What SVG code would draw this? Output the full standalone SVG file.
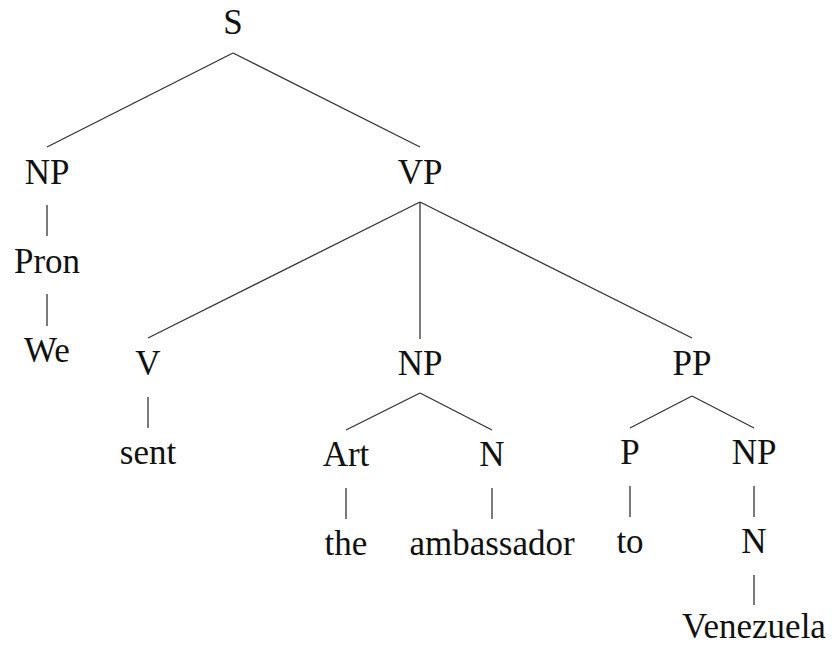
<svg xmlns="http://www.w3.org/2000/svg" width="832" height="648" viewBox="0 0 832 648">
<style>
.t text{font-size:35px;fill:#111;text-anchor:middle}
line{stroke:#333;stroke-width:1.3}
</style>
<rect width="832" height="648" fill="#fff"/>
<g id="edges">
<line x1="233" y1="53" x2="47" y2="147"/>
<line x1="233" y1="53" x2="420" y2="147"/>
<line x1="47" y1="205" x2="47" y2="236"/>
<line x1="47" y1="294" x2="47" y2="326"/>
<line x1="420" y1="202" x2="148" y2="338"/>
<line x1="420" y1="202" x2="420" y2="339"/>
<line x1="420" y1="202" x2="692" y2="338"/>
<line x1="148" y1="397" x2="148" y2="428"/>
<line x1="420" y1="393" x2="346" y2="430"/>
<line x1="420" y1="393" x2="492" y2="430"/>
<line x1="692" y1="396" x2="630" y2="428"/>
<line x1="692" y1="396" x2="754" y2="428"/>
<line x1="346" y1="488" x2="346" y2="519"/>
<line x1="492" y1="488" x2="492" y2="519"/>
<line x1="630" y1="486" x2="630" y2="517"/>
<line x1="754" y1="486" x2="754" y2="517"/>
<line x1="754" y1="575" x2="754" y2="605"/>
</g>
<g class="t" font-family="'Liberation Serif', 'Times New Roman', serif">
<g id="S"><text x="233" y="34">S</text></g>
<g id="NP1"><text x="47" y="184">NP</text></g>
<g id="VP"><text x="420" y="184">VP</text></g>
<g id="Pron"><text x="47" y="273">Pron</text></g>
<g id="We"><text x="47" y="362">We</text></g>
<g id="V"><text x="148" y="375">V</text></g>
<g id="NP2"><text x="420" y="375">NP</text></g>
<g id="PP"><text x="692" y="375">PP</text></g>
<g id="sent"><text x="148" y="464">sent</text></g>
<g id="Art"><text x="346" y="466">Art</text></g>
<g id="N1"><text x="492" y="466">N</text></g>
<g id="P"><text x="630" y="464">P</text></g>
<g id="NP3"><text x="754" y="464">NP</text></g>
<g id="the"><text x="346" y="555">the</text></g>
<g id="ambassador"><text x="492" y="555">ambassador</text></g>
<g id="to"><text x="630" y="553">to</text></g>
<g id="N2"><text x="754" y="553">N</text></g>
<g id="Venezuela"><text x="754" y="638">Venezuela</text></g>
</g>
</svg>
